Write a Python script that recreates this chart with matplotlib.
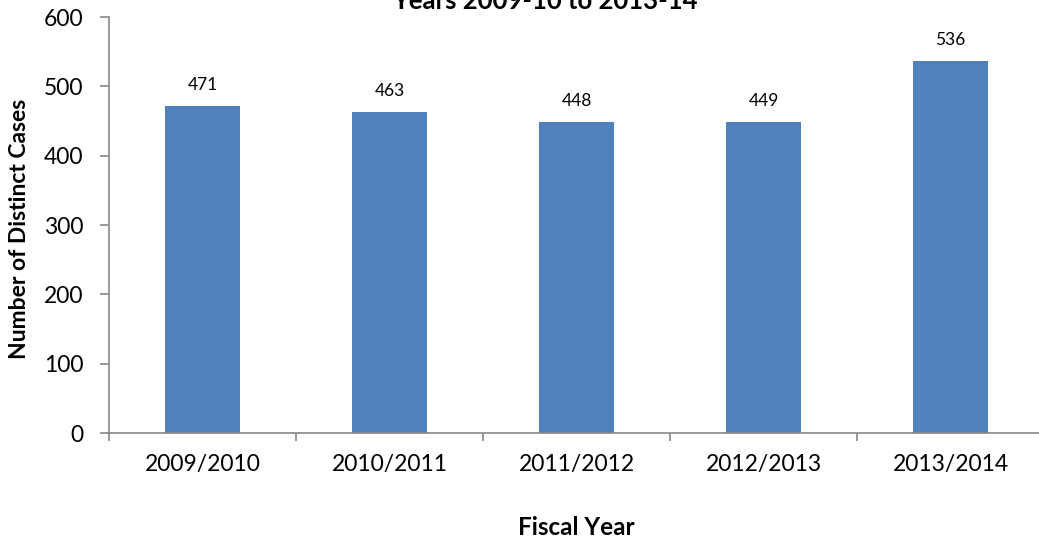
import matplotlib
matplotlib.use("Agg")
import matplotlib.pyplot as plt

fiscal_years = ["2009/2010", "2010/2011", "2011/2012", "2012/2013", "2013/2014"]
distinct_cases = [471, 463, 448, 449, 536]

plt.rcParams["font.family"] = ["Lato", "DejaVu Sans"]

fig = plt.figure(figsize=(10.39, 5.42), dpi=100)
ax = fig.add_axes([109 / 1039, 1 - 433 / 542, 935 / 1039, 416 / 542])

x = range(len(fiscal_years))
ax.bar(x, distinct_cases, width=0.4, color="#4F81BD", zorder=2)
for xi, v in zip(x, distinct_cases):
    ax.text(xi, v + 23, str(v), ha="center", va="baseline", fontsize=12.5)

ax.set_xlim(-0.5, len(fiscal_years) - 0.5)
ax.set_ylim(0, 600)
ax.set_yticks(range(0, 601, 100))
ax.tick_params(axis="y", labelsize=16.5, length=6.5, color="#868686", width=1.2, pad=12)

ax.set_xticks(list(x))
ax.set_xticklabels(fiscal_years, fontsize=16.5)
ax.tick_params(axis="x", length=0, pad=15)
ax.set_xticks([i - 0.5 for i in range(len(fiscal_years) + 1)], minor=True)
ax.tick_params(axis="x", which="minor", length=6, color="#868686", width=1.2)

for s in ["top", "right"]:
    ax.spines[s].set_visible(False)
for s in ["left", "bottom"]:
    ax.spines[s].set_color("#868686")
    ax.spines[s].set_linewidth(1.2)

ax.set_ylabel("Number of Distinct Cases", fontsize=16.5, fontweight="bold")
ax.yaxis.set_label_coords(-(109 - 30) / 935, (433 - 229) / 416)
ax.set_xlabel("Fiscal Year", fontsize=17.5, fontweight="bold")
ax.xaxis.set_label_coords(0.5, -(535 - 433) / 416)
ax.xaxis.label.set_va("baseline")

fig.text(545 / 1039, 1 - 9 / 542, "Years 2009-10 to 2013-14", ha="center",
         va="baseline", fontsize=18.5, fontweight="bold")

fig.savefig("out.png", dpi=100)
